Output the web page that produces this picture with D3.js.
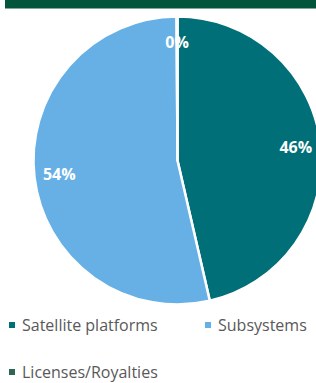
<!DOCTYPE html>
<html>
<head>
<meta charset="utf-8">
<script src="https://cdn.jsdelivr.net/npm/d3@7"></script>
<style>
html,body{margin:0;padding:0;background:#fff;overflow:hidden;}
svg{display:block;}
</style>
</head>
<body>
<svg id="chart" width="316" height="383"></svg>
<script>
const categories = ["Satellite platforms", "Subsystems", "Licenses/Royalties"];
const values = [46.4, 53.5, 0.1];
const colors = ["#006f77", "#66b0e6", "#2e6655"];

const svg = d3.select("#chart");
const W = 316;

// header bar
svg.append("rect").attr("x", 5).attr("y", 0).attr("width", W - 5).attr("height", 8.5).attr("fill", "#02553a");

const cx = 177.5, cy = 160.5, r = 144;
const data = categories.map((c, i) => ({ name: c, value: values[i], color: colors[i] }));
const total = d3.sum(values);
const pie = d3.pie().sort(null).value(d => d.value);
const arcs = pie(data);
const arc = d3.arc().innerRadius(0).outerRadius(r);
const labelArc = d3.arc().innerRadius(119).outerRadius(119);

const g = svg.append("g").attr("transform", `translate(${cx},${cy})`);
g.selectAll("path").data(arcs).join("path")
  .attr("d", arc)
  .attr("fill", d => d.data.color)
  .attr("stroke", "#fff")
  .attr("stroke-width", 2.5)
  .attr("stroke-linejoin", "round");

g.selectAll("text").data(arcs).join("text")
  .attr("transform", d => `translate(${labelArc.centroid(d)})`)
  .attr("text-anchor", "middle")
  .attr("dominant-baseline", "central")
  .attr("font-family", "'Open Sans', sans-serif")
  .attr("font-weight", "bold")
  .attr("font-size", 16)
  .attr("fill", "#fff")
  .text(d => Math.round(d.data.value / total * 100) + "%");

// legend
const legendPos = [[9, 325], [205, 325], [9, 372]];
const lg = svg.append("g");
data.forEach((d, i) => {
  const [x, y] = legendPos[i];
  lg.append("rect").attr("x", x).attr("y", y - 3).attr("width", 6).attr("height", 6).attr("fill", d.color);
  lg.append("text").attr("x", x + 13).attr("y", y)
    .attr("dominant-baseline", "central")
    .attr("font-family", "'Open Sans', sans-serif")
    .attr("font-size", 16)
    .attr("fill", "#595959")
    .text(d.name);
});
</script>
</body>
</html>
